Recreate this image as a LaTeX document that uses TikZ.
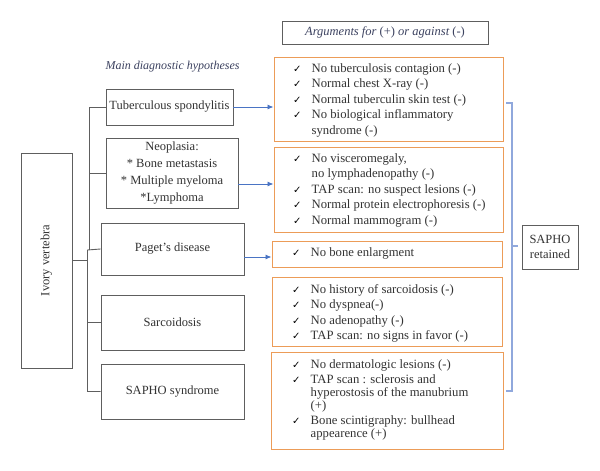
\documentclass[tikz,border=0pt]{standalone}
\usepackage{fontspec}
\setmainfont{Liberation Serif}
\newfontfamily\dvfont{DejaVu Sans}
\usetikzlibrary{arrows.meta}
\definecolor{txt}{HTML}{333333}
\definecolor{navy}{HTML}{3C4260}
\definecolor{gbox}{HTML}{5E5E5E}
\definecolor{obox}{HTML}{EC9C58}
\definecolor{arrblue}{HTML}{4A74C4}
\definecolor{brblue}{HTML}{90A8DC}
\newcommand\ck{\makebox[18.5pt][l]{\textcolor{black}{\dvfont\bfseries\fontsize{10}{10}\selectfont ✓}}}
\begin{document}
\begin{tikzpicture}[x=1pt,y=-1pt,
  every node/.style={text=txt},
  hbox/.style={draw=gbox,line width=0.9pt,inner sep=0pt,align=center,font=\fontsize{12.5}{17}\selectfont},
  orbox/.style={draw=obox,line width=1pt,inner sep=0pt},
  lst/.style={anchor=base west,inner sep=0pt,font=\fontsize{12.7}{15.5}\selectfont},
  conn/.style={draw=gbox,line width=0.9pt},
  arr/.style={draw=arrblue,line width=0.9pt,-{Latex[length=6pt,width=5pt]}},
  brk/.style={draw=brblue,line width=1.1pt}]
\useasboundingbox (0,0) rectangle (600,471);
\fill[white] (0,0) rectangle (600,471);

% headings
\node[font=\fontsize{12}{14}\selectfont\itshape,text=navy] (mdh) at (172.5,67) {Main diagnostic hypotheses};
\node[hbox,minimum width=206pt,minimum height=23pt,font=\fontsize{12.5}{14}\selectfont,text=navy] (args) at (385,32.5) {\itshape Arguments for \upshape(+) \itshape or against \upshape(-)};

% left boxes
\node[hbox,minimum width=51pt,minimum height=215pt] (ivory) at (46.5,260.5) {\rotatebox{90}{Ivory vertebra}};
\node[hbox,minimum width=127pt,minimum height=36pt] (tb) at (169.5,107) {Tuberculous spondylitis};
\node[hbox,minimum width=132pt,minimum height=70pt] (neo) at (172,173) {Neoplasia:\\* Bone metastasis\\* Multiple myeloma\\*Lymphoma};
\node[hbox,minimum width=143pt,minimum height=52pt] (pag) at (172.5,249) {Paget’s disease};
\node[hbox,minimum width=143pt,minimum height=55pt] (sar) at (172.5,322.5) {Sarcoidosis};
\node[hbox,minimum width=143pt,minimum height=55pt] (sap) at (172.5,391.5) {SAPHO syndrome};

% trunk
\coordinate (tk1) at (89,250);
\coordinate (tk2) at (87.5,250);
\draw[conn] (tb.west) -| (tk1);
\draw[conn] (neo.west) -- (neo.west -| tk1);
\draw[conn] (pag.west) -- (tk2) -- (sap.west -| tk2) -- (sap.west);
\draw[conn] (sar.west) -- (sar.west -| tk2);
\draw[conn] (ivory.east) -- (ivory.east -| tk2);

% orange boxes
\node[orbox,minimum width=229.7pt,minimum height=84pt] (a1) at (388.85,99) {};
\node[orbox,minimum width=229.5pt,minimum height=85pt] (a2) at (388.75,189.5) {};
\node[orbox,minimum width=230pt,minimum height=25.3pt] (a3) at (387,254.35) {};
\node[orbox,minimum width=230pt,minimum height=68.3pt] (a4) at (387,311.85) {};
\node[orbox,minimum width=232pt,minimum height=97pt] (a5) at (387,400.5) {};

\node[lst] (t1) at (293,72) {\begin{tabular}[t]{@{}l@{}l@{}}
\ck & No tuberculosis contagion (-)\\
\ck & Normal chest X-ray (-)\\
\ck & Normal tuberculin skin test (-)\\
\ck & No biological inflammatory\\
 & syndrome (-)
\end{tabular}};
\node[lst] (t2) at (293,162.3) {\begin{tabular}[t]{@{}l@{}l@{}}
\ck & No visceromegaly,\\
 & no lymphadenopathy (-)\\
\ck & TAP scan: no suspect lesions (-)\\
\ck & Normal protein electrophoresis (-)\\
\ck & Normal mammogram (-)
\end{tabular}};
\node[lst] (t3) at (292,256.7) {\begin{tabular}[t]{@{}l@{}l@{}}
\ck & No bone enlargment
\end{tabular}};
\node[lst] (t4) at (292,293.3) {\begin{tabular}[t]{@{}l@{}l@{}}
\ck & No history of sarcoidosis (-)\\
\ck & No dyspnea(-)\\
\ck & No adenopathy (-)\\
\ck & TAP scan: no signs in favor (-)
\end{tabular}};
\node[lst,font=\fontsize{12.7}{15}\selectfont] (t5) at (292,368) {\begin{tabular}[t]{@{}l@{}l@{}}
\ck & No dermatologic lesions (-)\\
\ck & TAP scan : sclerosis and\\[-1.5pt]
 & hyperostosis of the manubrium\\[-2pt]
 & (+)\\
\ck & Bone scintigraphy: bullhead\\[-2.5pt]
 & appearence (+)
\end{tabular}};

% arrows
\draw[arr] (tb.east) -- (tb.east -| a1.west);
\draw[arr] ([yshift=-11pt]neo.east) -- ([yshift=-11pt]neo.east -| a2.west);
\draw[arr] ([yshift=-8pt]pag.east) -- ([yshift=-8pt]pag.east -| a3.west);

% bracket and conclusion
\node[hbox,minimum width=56pt,minimum height=44pt,font=\fontsize{12.5}{15}\selectfont] (ret) at (550,247) {SAPHO\\retained};
\coordinate (bt) at (506,103);
\coordinate (bb) at (506,391);
\coordinate (bm) at (512,246);
\draw[brk] (bt) -- ++(6,0) -- ([xshift=6pt]bb) -- (bb);
\draw[brk] (bm) -- ++(6,0);
\end{tikzpicture}
\end{document}
